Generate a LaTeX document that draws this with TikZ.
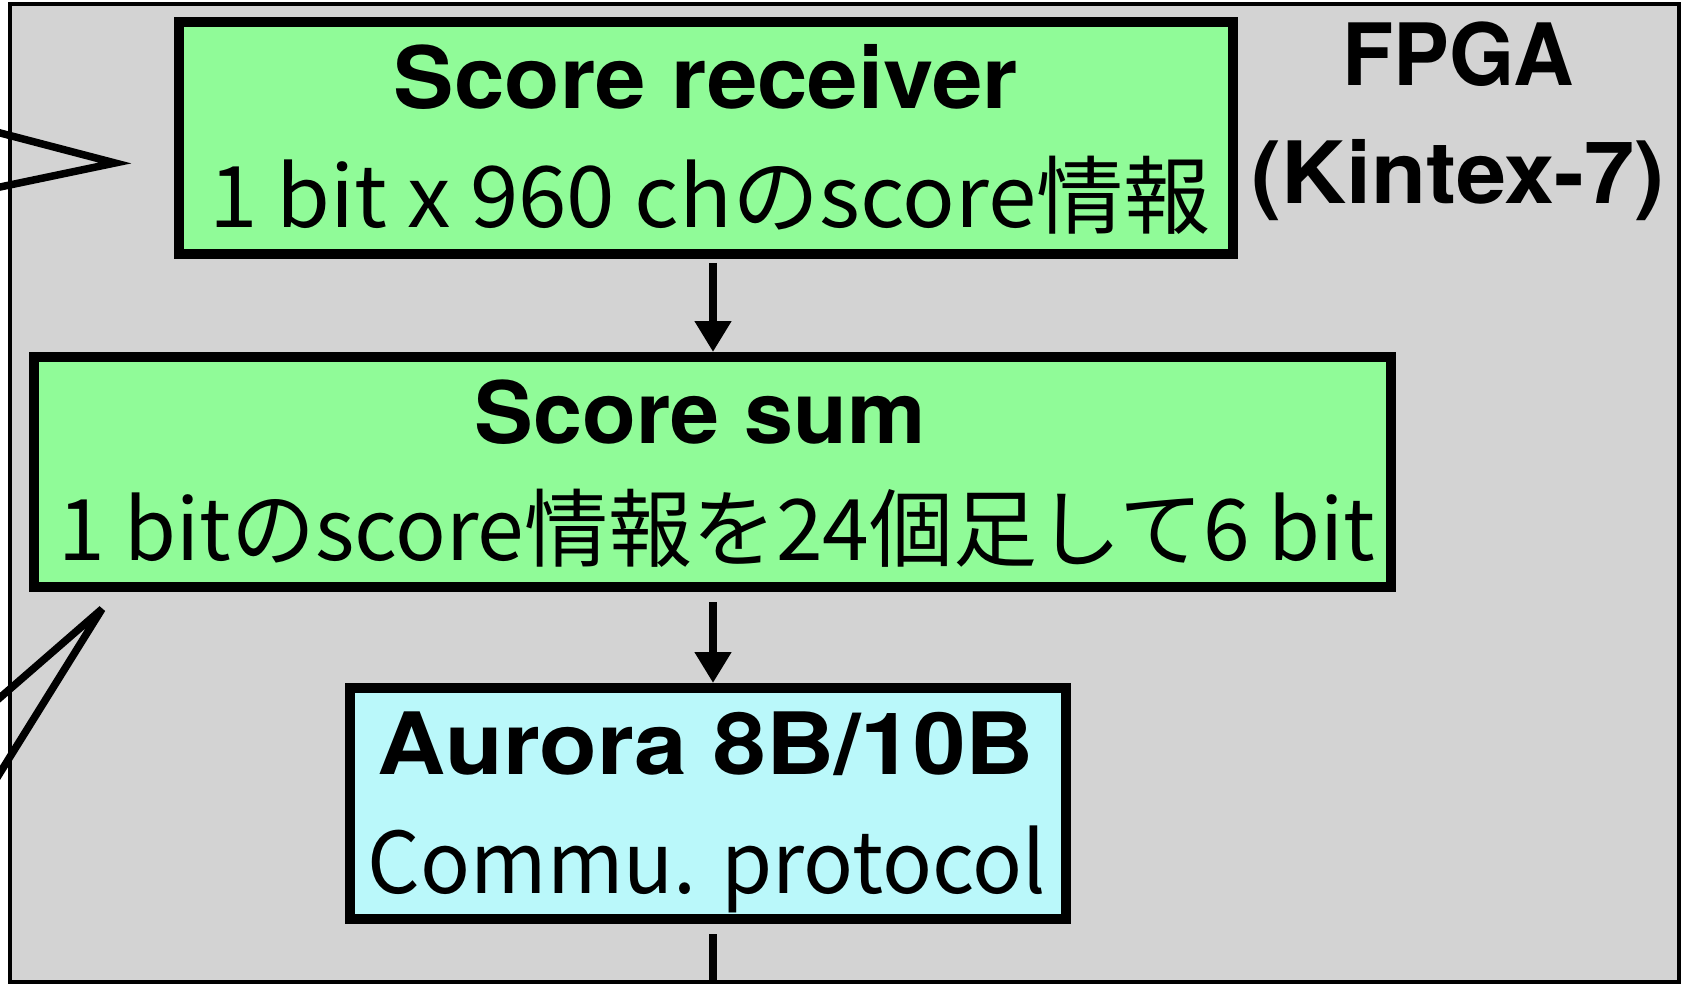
\documentclass[tikz,border=0pt]{standalone}
\usepackage{fontspec}
\usepackage{graphicx}
\setmainfont{Noto Sans CJK JP}
\newfontfamily\jp{Noto Sans CJK JP}
\newfontfamily\hv{TeX Gyre Heros}
\usetikzlibrary{arrows.meta}
\definecolor{fpgagray}{RGB}{211,211,211}
\definecolor{boxgreen}{RGB}{144,251,152}
\definecolor{boxcyan}{RGB}{186,248,250}
% #1 target width (pt), #2 text
\newcommand\bt[2]{\resizebox{#1pt}{\height}{\hv\bfseries\fontsize{86}{86}\selectfont #2}}
\newcommand\rt[2]{\resizebox{#1pt}{\height}{\jp\fontsize{85}{85}\selectfont #2}}
\tikzset{
  blockbox/.style={draw=black, line width=10pt, rectangle, inner sep=0pt},
  txt/.style={inner sep=0pt, anchor=base},
  arr/.style={draw=black, line width=8pt, -{Triangle[length=31pt,width=35pt]}},
  wire/.style={draw=black, line width=7.5pt},
}
\begin{document}
\begin{tikzpicture}[x=1pt,y=-1pt]
\useasboundingbox (0,0) rectangle (1681,984);
\clip (0,0) rectangle (1681,984);
\fill[white] (0,0) rectangle (1681,984);
% FPGA container
\node[draw=black, line width=4pt, fill=fpgagray, rectangle, inner sep=0pt,
      minimum width=1669pt, minimum height=978pt] (fpga) at (844.5,493) {};
% blocks
\node[blockbox, fill=boxgreen, minimum width=1054pt, minimum height=232pt] (rec) at (706,138) {};
\node[blockbox, fill=boxgreen, minimum width=1357pt, minimum height=230pt] (sum) at (712.5,472) {};
\node[blockbox, fill=boxcyan, minimum width=716pt, minimum height=231pt] (aur) at (708,803.5) {};
% texts
\node[txt] (rect1) at (706,109) {\bt{624}{Score receiver}};
\node[txt] (rect2) at (710,228) {\rt{1002}{1 bit x 960 chのscore情報}};
\node[txt] (sumt1) at (700,443) {\bt{451}{Score sum}};
\node[txt] (sumt2) at (717,560) {\rt{1316}{1 bitのscore情報を24個足して6 bit}};
\node[txt] (aurt1) at (706,774) {\bt{656}{Aurora 8B/10B}};
\node[txt] (aurt2) at (707,893) {\rt{678}{Commu. protocol}};
\node[txt] (fpgat1) at (1458,86) {\bt{232}{FPGA}};
\node[txt] (fpgat2) at (1458,204) {\bt{413}{(Kintex-7)}};
% connectors
\coordinate (ax) at (713,0);
\draw[arr, shorten <=4pt] (rec.south -| ax) -- (sum.north -| ax);
\draw[arr, shorten <=10pt] (sum.south -| ax) -- (aur.north -| ax);
\coordinate (out) at (713,1000);
\draw[draw=black, line width=8pt, shorten <=10pt] (aur.south -| ax) -- (out);
% incoming wires from the left
\coordinate (w1a) at (-20,127.7);
\coordinate (w1b) at (115,163);
\coordinate (w1c) at (-20,191.2);
\draw[wire, line join=miter] (w1a) -- (w1b) -- (w1c);
\coordinate (w2a) at (-20,715);
\coordinate (w2b) at (102,609);
\coordinate (w2c) at (-20,805);
\draw[wire, line join=bevel] (w2a) -- (w2b) -- (w2c);
\end{tikzpicture}
\end{document}
